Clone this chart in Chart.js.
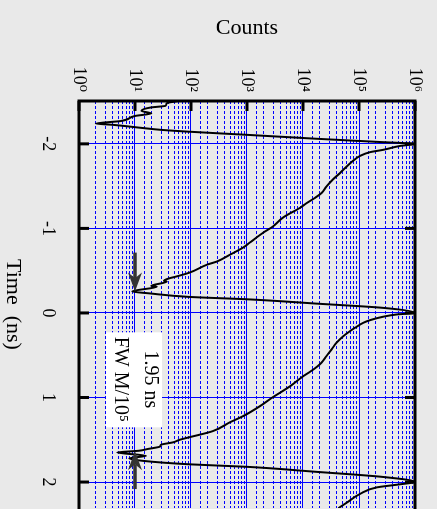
<!DOCTYPE html>
<html>
<head>
<meta charset="utf-8">
<script src="https://cdn.jsdelivr.net/npm/chart.js@4/dist/chart.umd.min.js"></script>
<style>
  html, body { margin: 0; padding: 0; background: #e9e9e9; width: 437px; height: 509px; overflow: hidden; }
  /* chart is drawn upright, then turned a quarter clockwise like the original figure */
  #wrap { position: absolute; left: 0; top: 0; width: 509px; height: 437px;
          transform-origin: 0 0; transform: translateX(437px) rotate(90deg); }
</style>
</head>
<body>
<div id="wrap"><canvas id="c"></canvas></div>
<script>
// pulse train, period ~2 ns (time in ns, counts per bin)
const TIME_NS = [
  -2.51, -2.48, -2.45, -2.43, -2.39, -2.36, -2.33, -2.27, -2.24,
  -2.225, -2.19, -2.165, -2.144, -2.105, -2.06, -2.02, -2.0,
  -1.975, -1.929, -1.902, -1.858, -1.803, -1.732, -1.654, -1.583, -1.496, -1.418, -1.359, -1.3, -1.245,
  -1.127, -1.021, -0.95, -0.832, -0.773, -0.69, -0.608, -0.572, -0.478,
  -0.43, -0.41, -0.38, -0.37, -0.32, -0.31, -0.254,
  -0.232, -0.19, -0.16, -0.11, -0.06, 0.0,
  0.018, 0.045, 0.085, 0.116, 0.175, 0.215, 0.274, 0.352, 0.431, 0.51, 0.588, 0.635, 0.694, 0.746,
  0.867, 0.997, 1.103, 1.221, 1.292, 1.398, 1.469,
  1.5, 1.53, 1.56, 1.58, 1.61, 1.63, 1.65,
  1.69, 1.72, 1.75, 1.79, 1.82, 1.88, 1.94, 2.0,
  2.027, 2.063, 2.14, 2.24, 2.31, 2.4
];
const COUNTS = [
  63, 37, 35, 19, 13, 19.5, 10, 5.6, 2.0,
  4.0, 12.6, 30, 91, 1120, 17800, 270000, 1000000,
  537000, 269000, 158000, 105000, 79400, 60300, 45700, 34700, 26300, 21400, 16200, 11700, 8900,
  4370, 2880, 1950, 1120, 850, 500, 290, 195, 95,
  54, 41, 33, 37, 19.5, 24.5, 8.9,
  17.8, 91, 1120, 17800, 270000, 1000000,
  468000, 269000, 158000, 120000, 85100, 69200, 52500, 39800, 32400, 26300, 21400, 17800, 13500, 10200,
  5900, 2880, 1700, 850, 500, 245, 95,
  63, 48, 29, 28, 16.6, 11.7, 4.8,
  15.8, 7.9, 14.1, 91, 1000, 17800, 270000, 1000000,
  537000, 209000, 105000, 61700, 42700, 31600
];

const TIME_TICKS = [-2, -1, 0, 1, 2];
const DECADES = [1, 10, 100, 1e3, 1e4, 1e5, 1e6];
const DECADE_LABELS = ["10⁰", "10¹", "10²", "10³", "10⁴", "10⁵", "10⁶"];

// FWM/10^5 markers: arrows at 10 counts, pointing to the two minima
const ARROWS = [
  { from: -0.714, to: -0.254, counts: 10 },
  { from: 2.083, to: 1.634, counts: 10 },
];
const NOTE = { t: 0.785, counts: 9.6, lines: ["1.95 ns", "FW M/10⁵"] };

const FONT = "'Liberation Serif', 'DejaVu Serif', serif";
const BLUE = "#0000ff";
const isDecade = v => { const l = Math.log10(v); return Math.abs(l - Math.round(l)) < 1e-6; };

const frame = {
  id: "frame",
  afterDatasetsDraw(chart) {
    const { ctx, chartArea: a, scales: { x, y } } = chart;
    ctx.save();

    // note box
    const cx = x.getPixelForValue(NOTE.t), cy = y.getPixelForValue(NOTE.counts);
    ctx.fillStyle = "#fff";
    ctx.fillRect(cx - 47, cy - 28, 95, 56);
    ctx.fillStyle = "#000";
    ctx.font = "20px " + FONT;
    ctx.textAlign = "center";
    ctx.textBaseline = "middle";
    ctx.fillText(NOTE.lines[0], cx, cy - 16);
    ctx.fillText(NOTE.lines[1], cx, cy + 14);

    // arrows
    ctx.fillStyle = "#333";
    ctx.strokeStyle = "#333";
    ARROWS.forEach(ar => {
      const x0 = x.getPixelForValue(ar.from), x1 = x.getPixelForValue(ar.to), yy = y.getPixelForValue(ar.counts);
      const d = Math.sign(x1 - x0), hl = 19, hw = 7;
      ctx.lineWidth = 3.5;
      ctx.beginPath(); ctx.moveTo(x0, yy); ctx.lineTo(x1 - d * hl * 0.7, yy); ctx.stroke();
      ctx.beginPath();
      ctx.moveTo(x1, yy);
      ctx.lineTo(x1 - d * hl, yy - hw);
      ctx.lineTo(x1 - d * hl * 0.7, yy);
      ctx.lineTo(x1 - d * hl, yy + hw);
      ctx.closePath(); ctx.fill();
    });

    // frame (left, bottom, top of the upright chart)
    ctx.strokeStyle = "#000";
    ctx.lineWidth = 3;
    ctx.lineJoin = "miter";
    ctx.beginPath();
    ctx.moveTo(a.right + 2, a.top); ctx.lineTo(a.left, a.top);
    ctx.lineTo(a.left, a.bottom); ctx.lineTo(a.right + 2, a.bottom);
    ctx.stroke();

    // inward tick marks
    ctx.beginPath();
    TIME_TICKS.forEach(t => {
      const px = x.getPixelForValue(t);
      ctx.moveTo(px, a.bottom); ctx.lineTo(px, a.bottom - 10);
      ctx.moveTo(px, a.top); ctx.lineTo(px, a.top + 10);
    });
    DECADES.forEach(v => {
      const py = y.getPixelForValue(v);
      ctx.moveTo(a.left, py); ctx.lineTo(a.left + 10, py);
    });
    ctx.stroke();
    ctx.restore();
  }
};

new Chart(document.getElementById("c"), {
  type: "line",
  data: {
    datasets: [{
      data: TIME_NS.map((t, i) => ({ x: t, y: COUNTS[i] })),
      borderColor: "#000", borderWidth: 2, pointRadius: 0, fill: false,
      cubicInterpolationMode: "monotone",
    }]
  },
  options: {
    responsive: true, maintainAspectRatio: false, animation: false, events: [],
    layout: { padding: { top: 22, right: 0, left: 0, bottom: 0 } },
    scales: {
      x: {
        type: "linear", position: "bottom", min: -2.507, max: 2.307,
        afterBuildTicks: s => { s.ticks = TIME_TICKS.map(v => ({ value: v })); },
        afterFit: s => { s.height = 79; },
        ticks: { color: "#000", font: { family: FONT, size: 18 }, padding: 20, maxRotation: 0, autoSkip: false,
                 callback: v => String(v) },
        grid: { color: BLUE, lineWidth: 1, drawTicks: false },
        border: { display: false },
        title: { display: true, text: "Time  (ns)", color: "#000", font: { family: FONT, size: 22 },
                 padding: { top: 0, bottom: 0 } },
      },
      y: {
        type: "logarithmic", position: "left", min: 1, max: 1e6,
        afterBuildTicks: s => { s.ticks = DECADES.map(v => ({ value: v })); },
        afterFit: s => { s.width = 101; },
        ticks: { color: "#000", font: { family: FONT, size: 18 }, padding: 9, autoSkip: false,
                 callback: (v, i) => DECADE_LABELS[i] },
        grid: { color: BLUE, lineWidth: 1, drawTicks: false },
        border: { display: false },
        title: { display: true, text: "Counts", color: "#000", font: { family: FONT, size: 22 },
                 padding: { top: 15, bottom: 0 } },
      },
      // minor decade grid, dashed
      y2: {
        type: "logarithmic", position: "right", min: 1, max: 1e6,
        afterFit: s => { s.width = 0; },
        ticks: { display: false },
        grid: { color: c => isDecade(c.tick.value) ? "rgba(0,0,0,0)" : BLUE, lineWidth: 1, drawTicks: false },
        border: { display: false, dash: [3, 2] },
      },
    },
    plugins: { legend: { display: false }, tooltip: { enabled: false } },
  },
  plugins: [frame],
});
</script>
</body>
</html>
